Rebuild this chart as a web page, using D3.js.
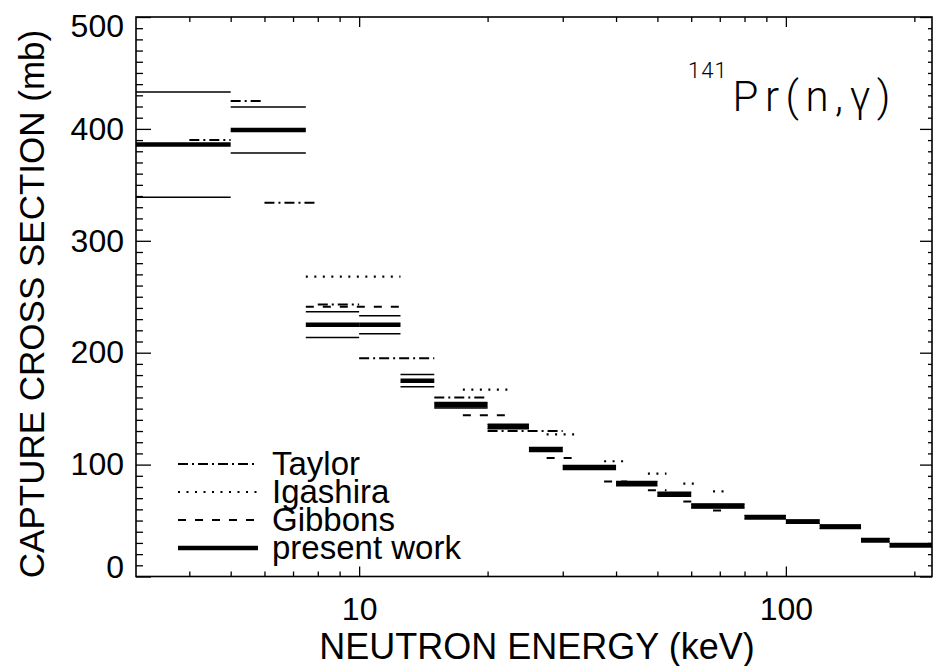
<!DOCTYPE html>
<html>
<head>
<meta charset="utf-8">
<script src="https://cdn.jsdelivr.net/npm/d3@7"></script>
<style>
  html, body { margin: 0; padding: 0; background: #fff; }
  svg { display: block; font-family: "Liberation Sans", Arial, Helvetica, sans-serif; }
</style>
</head>
<body>
<svg id="chart" width="934" height="666"></svg>
<script>
// 141Pr(n,gamma) capture cross section (mb) in neutron-energy bins (keV)

// present work: bin edges, cross section, uncertainty
const pwLo    = [3, 5, 7.5, 10, 12.5, 15, 20, 25, 30, 40, 50, 60, 80, 100, 120, 150, 175];
const pwHi    = [5, 7.5, 10, 12.5, 15, 20, 25, 30, 40, 50, 60, 80, 100, 120, 150, 175, 225];
const pwSigma = [386, 399, 225, 225, 175, 153, 134, 113.5, 97.5, 83, 73.5, 63, 53, 49, 44.5, 32.5, 28];
const pwErr   = [47, 20.5, 11.5, 8, 5.5, 2.5, 2, 1.8, 1.8, 1.8, 1.8, 1.8, 1.5, 1.5, 1.5, 1.5, 1.5];

// Taylor
const taylorLo    = [4, 5, 6, 8, 10, 15, 20];
const taylorHi    = [5, 6, 8, 10, 15, 20, 30];
const taylorSigma = [390, 425, 334, 243, 195, 160, 130];

// Igashira (bins of +-2.5 keV around each energy)
const igaE     = [10, 20, 30, 40, 50, 60, 70];
const igaSigma = [268, 167, 127, 103, 92, 83, 76];

// Gibbons (bins of +-2.5 keV around each energy)
const gibE     = [10, 20, 30, 40, 50, 60, 70];
const gibSigma = [241, 144, 106, 85, 77, 67, 59];

// axis ticks
const xMinorTicks = [4, 5, 6, 7, 8, 9, 20, 30, 40, 50, 60, 70, 80, 90, 200];
const xMajorTicks = [10, 100];
const yTicks = d3.range(0, 501, 10);

const legendNames = ["Taylor", "Igashira", "Gibbons", "present work"];

const svg = d3.select("#chart");
const L = 136, R = 932, T = 17, B = 576.5;

const x = d3.scaleLog().domain([3, 220]).range([L, R]);
const y = d3.scaleLinear().domain([0, 500]).range([B, T]);

const styles = {
  taylor:  { width: 2,   dash: "10,4,2,4" },
  iga:     { width: 2.2, dash: "2,6.5" },
  gib:     { width: 2,   dash: "8,9" },
  pw:      { width: 4.5, dash: null },
  pwErr:   { width: 1.5, dash: null }
};

// clipping for data
svg.append("defs").append("clipPath").attr("id", "plotClip")
  .append("rect").attr("x", L).attr("y", T).attr("width", R - L).attr("height", B - T);

const plot = svg.append("g").attr("clip-path", "url(#plotClip)");

function segments(cls, lo, hi, val, st) {
  plot.append("g").attr("class", cls)
    .selectAll("line").data(val).join("line")
    .attr("x1", (d, i) => x(lo[i]))
    .attr("x2", (d, i) => x(hi[i]))
    .attr("y1", d => y(d))
    .attr("y2", d => y(d))
    .attr("stroke", "#000")
    .attr("stroke-width", st.width)
    .attr("stroke-dasharray", st.dash);
}

// present work uncertainty bands
segments("pw-up", pwLo, pwHi, pwSigma.map((v, i) => v + pwErr[i]), styles.pwErr);
segments("pw-dn", pwLo, pwHi, pwSigma.map((v, i) => v - pwErr[i]), styles.pwErr);
// other measurements
segments("taylor", taylorLo, taylorHi, taylorSigma, styles.taylor);
segments("igashira", igaE.map(e => e - 2.5), igaE.map(e => e + 2.5), igaSigma, styles.iga);
segments("gibbons", gibE.map(e => e - 2.5), gibE.map(e => e + 2.5), gibSigma, styles.gib);
// present work
segments("pw", pwLo, pwHi, pwSigma, styles.pw);

// axes (ticks pointing into the frame on all four sides)
function styleAxis(g) {
  g.select(".domain").remove();
  g.selectAll(".tick line").attr("stroke", "#000").attr("stroke-width", 1.3);
  g.selectAll(".tick text").attr("fill", "#000").attr("font-family", "Liberation Sans, Arial, sans-serif");
}

const xMajor = new Set(xMajorTicks);
const xAll = xMinorTicks.concat(xMajorTicks).sort((a, b) => a - b);

const xb = svg.append("g").attr("transform", `translate(0,${B})`)
  .call(d3.axisBottom(x).tickValues(xAll).tickSize(-5).tickPadding(21)
    .tickFormat(d => xMajor.has(d) ? String(d) : ""));
styleAxis(xb);
xb.selectAll(".tick line").attr("y2", d => xMajor.has(d) ? -10 : -5);
xb.selectAll(".tick text").attr("font-size", 32);

const xt = svg.append("g").attr("transform", `translate(0,${T})`)
  .call(d3.axisTop(x).tickValues(xAll).tickSize(-5).tickFormat(""));
styleAxis(xt);
xt.selectAll(".tick line").attr("y2", d => xMajor.has(d) ? 10 : 5);

const yl = svg.append("g").attr("transform", `translate(${L},0)`)
  .call(d3.axisLeft(y).tickValues(yTicks).tickSize(-7).tickPadding(12)
    .tickFormat(d => d % 100 === 0 ? String(d) : ""));
styleAxis(yl);
yl.selectAll(".tick line").attr("x2", d => d % 100 === 0 ? 15 : 7);
yl.selectAll(".tick text").attr("font-size", 32)
  .attr("dy", d => d === 500 ? "0.62em" : d === 0 ? "0.02em" : "0.32em");

const yr = svg.append("g").attr("transform", `translate(${R},0)`)
  .call(d3.axisRight(y).tickValues(yTicks).tickSize(-4).tickFormat(""));
styleAxis(yr);
yr.selectAll(".tick line").attr("x2", d => d % 100 === 0 ? -12 : -4);

// frame
svg.append("rect").attr("x", L).attr("y", T).attr("width", R - L).attr("height", B - T)
  .attr("fill", "none").attr("stroke", "#000").attr("stroke-width", 1.6);

// axis titles
svg.append("text").attr("x", 537).attr("y", 659).attr("text-anchor", "middle")
  .attr("font-size", 36).text("NEUTRON ENERGY (keV)");
svg.append("text").attr("transform", "translate(44,304) rotate(-90)").attr("text-anchor", "middle")
  .attr("font-size", 35).text("CAPTURE CROSS SECTION (mb)");

// reaction label
const lab = svg.append("text").attr("x", 688).attr("y", 111)
  .attr("font-family", "Roboto, 'Liberation Sans', sans-serif").attr("font-weight", 300);
lab.append("tspan").attr("font-size", 22).attr("dy", -33).attr("letter-spacing", 1).text("141");
lab.append("tspan").attr("font-size", 42).attr("dy", 33).attr("dx", 5).attr("letter-spacing", 6.5).text("Pr(n,γ)");

// legend
const legendStyles = [styles.taylor, styles.iga, styles.gib, styles.pw];
const leg = svg.append("g").selectAll("g").data(legendNames).join("g")
  .attr("transform", (d, i) => `translate(0,${464 + i * 28})`);
leg.append("line").attr("x1", 178).attr("x2", 258).attr("y1", 0).attr("y2", 0)
  .attr("stroke", "#000")
  .attr("stroke-width", (d, i) => legendStyles[i].width)
  .attr("stroke-dasharray", (d, i) => legendStyles[i].dash);
leg.append("text").attr("x", 272).attr("y", 11).attr("font-size", 33).text(d => d);
</script>
</body>
</html>
